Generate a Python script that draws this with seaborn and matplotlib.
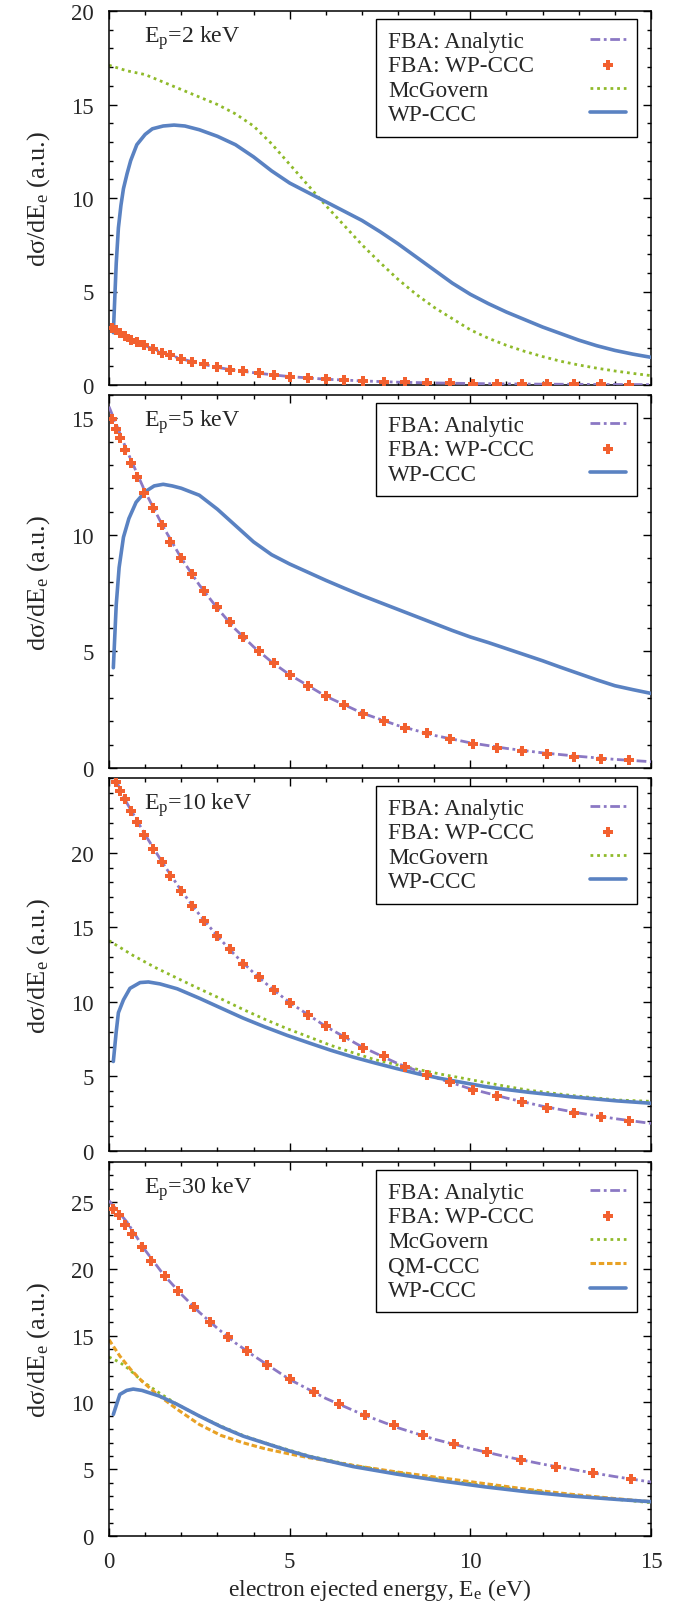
import numpy as np
import pandas as pd
import matplotlib
matplotlib.use("Agg")
import matplotlib.pyplot as plt
from matplotlib.ticker import MultipleLocator, FixedLocator
import seaborn as sns

# ---------------------------------------------------------------- data
# Ejected-electron energy grids (eV) of the FBA: WP-CCC points
fba_grid = [0.09, 0.19, 0.31, 0.45, 0.60, 0.78, 0.97, 1.22, 1.46, 1.70, 2.00,
            2.31, 2.62, 2.98, 3.35, 3.71, 4.14, 4.56, 5.02, 5.51, 6.00, 6.51,
            7.02, 7.60, 8.19, 8.80, 9.43, 10.06, 10.74, 11.42, 12.13, 12.86,
            13.61, 14.39]
fba_grid_30 = [0.11, 0.28, 0.45, 0.64, 0.91, 1.17, 1.55, 1.91, 2.34, 2.80,
               3.28, 3.81, 4.38, 5.01, 5.68, 6.36, 7.09, 7.88, 8.70, 9.55,
               10.45, 11.41, 12.38, 13.39, 14.45]

# Grid of the analytic FBA curves (eV)
ana_grid = [0, 0.5, 1, 1.5, 2, 2.5, 3, 3.5, 4, 4.5, 5, 6, 7, 8, 9, 10, 11,
            12, 13, 14, 15]
ana_grid_30 = [0, 0.5, 1, 1.5, 2, 2.5, 3, 3.5, 4, 5, 6, 7, 8, 9, 10, 11, 12,
               13, 14, 15]

# --- E_p = 2 keV
ana_2 = [3.1, 2.55, 2.1, 1.72, 1.4, 1.15, 0.94, 0.78, 0.66, 0.55, 0.45, 0.31,
         0.22, 0.15, 0.11, 0.08, 0.06, 0.045, 0.035, 0.025, 0.02]
fba_2 = [3.05, 2.92, 2.78, 2.6, 2.43, 2.28, 2.12, 1.9, 1.73, 1.58, 1.4, 1.24,
         1.1, 0.94, 0.82, 0.73, 0.63, 0.55, 0.45, 0.38, 0.31, 0.26, 0.22, 0.18,
         0.14, 0.12, 0.10, 0.08, 0.065, 0.055, 0.045, 0.037, 0.03, 0.024]
mcg_2_x = [0, 0.5, 1.0, 1.5, 2.0, 2.5, 3.0, 3.5, 4.0, 4.5, 5.0, 5.5, 6.0, 6.5,
           7.0, 7.5, 8.0, 8.5, 9.0, 9.5, 10.0, 10.5, 11.0, 11.5, 12.0, 12.5,
           13.0, 13.5, 14.0, 14.5, 15.0]
mcg_2 = [17.1, 16.8, 16.6, 16.2, 15.8, 15.4, 15.0, 14.5, 13.85, 12.9, 11.8,
         10.7, 9.6, 8.55, 7.5, 6.55, 5.65, 4.85, 4.15, 3.55, 2.95, 2.5, 2.12,
         1.8, 1.52, 1.27, 1.07, 0.9, 0.75, 0.62, 0.5]
wp_2_x = [0.12, 0.2, 0.26, 0.33, 0.40, 0.5, 0.6, 0.77, 1.0, 1.2, 1.5, 1.8,
          2.1, 2.5, 3.0, 3.5, 4.0, 4.5, 5.0, 5.5, 6.0, 6.5, 7.0, 7.5, 8.0, 8.5,
          9.0, 9.5, 10.0, 10.5, 11.0, 11.5, 12.0, 12.5, 13.0, 13.5, 14.0, 14.5,
          15.0]
wp_2 = [2.8, 6.5, 8.4, 9.6, 10.5, 11.3, 12.0, 12.85, 13.4, 13.7, 13.85, 13.9,
        13.85, 13.65, 13.3, 12.85, 12.2, 11.45, 10.8, 10.3, 9.8, 9.3, 8.8, 8.2,
        7.55, 6.85, 6.15, 5.45, 4.85, 4.35, 3.9, 3.5, 3.1, 2.75, 2.4, 2.1,
        1.85, 1.65, 1.48]

# --- E_p = 5 keV
ana_5 = [15.5, 13.6, 11.85, 10.35, 9.0, 7.85, 6.85, 5.95, 5.2, 4.55, 4.0,
         3.08, 2.36, 1.82, 1.4, 1.08, 0.84, 0.65, 0.5, 0.37, 0.27]
fba_5 = [14.96, 14.56, 14.17, 13.64, 13.1, 12.5, 11.8, 11.16, 10.44, 9.7,
         9.01, 8.33, 7.61, 6.9, 6.27, 5.63, 5.04, 4.51, 4.01, 3.51, 3.09, 2.69,
         2.33, 2.01, 1.73, 1.49, 1.26, 1.04, 0.87, 0.73, 0.6, 0.49, 0.4, 0.34]
wp_5_x = [0.12, 0.2, 0.28, 0.4, 0.55, 0.75, 1.0, 1.25, 1.5, 1.75, 2.0, 2.5,
          3.0, 3.5, 4.0, 4.5, 5.0, 5.5, 6.0, 6.5, 7.0, 7.5, 8.0, 8.5, 9.0,
          9.5, 10.0, 10.5, 11.0, 11.5, 12.0, 12.5, 13.0, 13.5, 14.0, 14.5,
          15.0]
wp_5 = [4.3, 7.0, 8.6, 9.9, 10.7, 11.4, 11.85, 12.1, 12.17, 12.1, 12.0, 11.7,
        11.1, 10.4, 9.7, 9.15, 8.75, 8.4, 8.05, 7.72, 7.4, 7.1, 6.8, 6.5, 6.2,
        5.9, 5.62, 5.38, 5.12, 4.86, 4.6, 4.32, 4.05, 3.78, 3.53, 3.36, 3.2]

# --- E_p = 10 keV
ana_10 = [25.8, 23.3, 21.2, 19.25, 17.45, 15.85, 14.4, 13.1, 11.95, 10.9,
          9.95, 8.35, 6.98, 5.85, 4.95, 4.17, 3.55, 3.0, 2.55, 2.17, 1.85]
fba_10 = [25.4, 24.7, 24.1, 23.56, 22.8, 22.05, 21.16, 20.27, 19.38, 18.4,
          17.4, 16.44, 15.43, 14.43, 13.54, 12.54, 11.65, 10.8, 9.91, 9.13,
          8.37, 7.64, 6.93, 6.35, 5.63, 5.12, 4.63, 4.12, 3.67, 3.3, 2.9, 2.56,
          2.27, 2.0]
mcg_10_x = [0, 0.67, 1.28, 1.89, 2.5, 3.1, 3.71, 4.32, 4.93, 5.54, 6.14,
            6.75, 7.36, 7.97, 8.58, 9.18, 9.79, 10.4, 11.0, 11.6, 12.8, 14.05,
            15.0]
mcg_10 = [14.1, 13.1, 12.3, 11.58, 10.87, 10.2, 9.49, 8.82, 8.2, 7.64, 7.08,
          6.59, 6.12, 5.78, 5.45, 5.15, 4.88, 4.6, 4.33, 4.08, 3.72, 3.42,
          3.33]
wp_10_x = [0.12, 0.2, 0.26, 0.40, 0.58, 0.86, 1.09, 1.41, 1.89, 2.5, 3.1,
           3.71, 4.32, 4.93, 5.54, 6.14, 6.75, 7.36, 7.97, 8.58, 9.18, 9.79,
           10.4, 11.0, 11.6, 12.8, 14.05, 15.0]
wp_10 = [6.0, 8.0, 9.27, 10.13, 10.9, 11.29, 11.33, 11.2, 10.87, 10.24, 9.58,
         8.91, 8.31, 7.75, 7.24, 6.75, 6.3, 5.9, 5.52, 5.16, 4.86, 4.59, 4.32,
         4.12, 3.94, 3.63, 3.36, 3.2]

# --- E_p = 30 keV
ana_30 = [25.1, 23.5, 21.4, 19.6, 18.1, 16.75, 15.55, 14.45, 13.5, 11.72,
          10.3, 9.12, 8.1, 7.25, 6.55, 5.93, 5.38, 4.9, 4.45, 4.04]
fba_30 = [24.5, 24.05, 23.3, 22.6, 21.6, 20.6, 19.45, 18.35, 17.16, 16.0,
          14.9, 13.84, 12.77, 11.72, 10.77, 9.85, 9.03, 8.28, 7.53, 6.86, 6.28,
          5.69, 5.16, 4.69, 4.24]
mcg_30_x = [0, 0.3, 0.55, 0.91, 1.4, 1.89, 2.5, 3.1, 3.71, 4.32, 4.93, 5.54,
            6.75, 7.97, 9.18, 10.4, 11.6, 12.8, 14.05, 15.0]
mcg_30 = [13.4, 13.0, 12.5, 11.6, 10.7, 9.85, 8.98, 8.23, 7.53, 6.98, 6.48,
          5.99, 5.29, 4.74, 4.24, 3.79, 3.42, 3.04, 2.74, 2.49]
qm_30_x = [0, 0.3, 0.6, 0.91, 1.28, 1.89, 2.5, 3.1, 3.71, 4.32, 4.93, 5.54,
           6.75, 7.97, 9.18, 10.4, 11.6, 12.8, 14.05, 15.0]
qm_30 = [14.7, 13.47, 12.47, 11.6, 10.72, 9.48, 8.35, 7.53, 6.98, 6.53, 6.18,
         5.86, 5.29, 4.79, 4.36, 3.92, 3.49, 3.12, 2.79, 2.57]
wp_30_x = [0.12, 0.3, 0.49, 0.67, 0.91, 1.4, 1.89, 2.5, 3.1, 3.71, 4.32, 4.93,
           5.54, 6.75, 7.97, 9.18, 10.4, 11.6, 12.8, 14.05, 15.0]
wp_30 = [9.1, 10.6, 10.9, 11.0, 10.9, 10.47, 9.85, 8.98, 8.18, 7.48, 6.95,
         6.42, 5.95, 5.2, 4.63, 4.13, 3.68, 3.3, 2.99, 2.74, 2.57]

# ---------------------------------------------------------------- style
sns.set_theme(style="ticks")
plt.rcParams["font.family"] = ["Liberation Serif", "DejaVu Serif"]
plt.rcParams["mathtext.fontset"] = "custom"
plt.rcParams["mathtext.rm"] = "Liberation Serif"
plt.rcParams["mathtext.it"] = "Liberation Serif:italic"
plt.rcParams["axes.linewidth"] = 1.1
plt.rcParams["axes.edgecolor"] = "black"

C_ANA = "#8b78c4"
C_FBA = "#f2602f"
C_MCG = "#8fba2a"
C_QM = "#e8a124"
C_WP = "#5a82c2"

panels = [
    dict(label="2 keV", ylim=20, yticks=[0, 5, 10, 15, 20],
         ana=ana_2, ana_x=ana_grid, fba=fba_2, fba_x=fba_grid,
         mcg=(mcg_2_x, mcg_2), qm=None, wp=(wp_2_x, wp_2)),
    dict(label="5 keV", ylim=16, yticks=[0, 5, 10, 15],
         ana=ana_5, ana_x=ana_grid, fba=fba_5, fba_x=fba_grid,
         mcg=None, qm=None, wp=(wp_5_x, wp_5)),
    dict(label="10 keV", ylim=25, yticks=[0, 5, 10, 15, 20],
         ana=ana_10, ana_x=ana_grid, fba=fba_10, fba_x=fba_grid,
         mcg=(mcg_10_x, mcg_10), qm=None, wp=(wp_10_x, wp_10)),
    dict(label="30 keV", ylim=28, yticks=[0, 5, 10, 15, 20, 25],
         ana=ana_30, ana_x=ana_grid_30, fba=fba_30, fba_x=fba_grid_30,
         mcg=(mcg_30_x, mcg_30), qm=(qm_30_x, qm_30), wp=(wp_30_x, wp_30)),
]

W, H = 690, 1608
fig = plt.figure(figsize=(W / 100, H / 100), dpi=100)
left, right = 109, 651
frames = [(12, 386), (396, 769), (779, 1152), (1163, 1537)]

for i, (p, (top, bot)) in enumerate(zip(panels, frames)):
    ax = fig.add_axes([left / W, 1 - bot / H, (right - left) / W, (bot - top) / H])
    ana_df = pd.DataFrame({"x": p["ana_x"], "y": p["ana"]})
    sns.lineplot(data=ana_df, x="x", y="y", ax=ax, color=C_ANA, lw=2.0,
                 ls=(0, (3.5, 1.3, 1.0, 1.3)), sort=False, estimator=None,
                 label="FBA: Analytic", zorder=3)
    fba_df = pd.DataFrame({"x": p["fba_x"], "y": p["fba"]})
    sns.scatterplot(data=fba_df, x="x", y="y", ax=ax, color=C_FBA, marker="P",
                    s=62, linewidth=0, label="FBA: WP-CCC", zorder=4)
    if p["mcg"] is not None:
        mdf = pd.DataFrame({"x": p["mcg"][0], "y": p["mcg"][1]})
        sns.lineplot(data=mdf, x="x", y="y", ax=ax, color=C_MCG, lw=2.0,
                     ls=(0, (1.0, 1.4)), sort=False, estimator=None,
                     label="McGovern", zorder=2)
    if p["qm"] is not None:
        qdf = pd.DataFrame({"x": p["qm"][0], "y": p["qm"][1]})
        sns.lineplot(data=qdf, x="x", y="y", ax=ax, color=C_QM, lw=2.2,
                     ls=(0, (1.8, 0.9)), sort=False, estimator=None,
                     label="QM-CCC", zorder=2)
    wdf = pd.DataFrame({"x": p["wp"][0], "y": p["wp"][1]})
    sns.lineplot(data=wdf, x="x", y="y", ax=ax, color=C_WP, lw=2.6,
                 sort=False, estimator=None, label="WP-CCC", zorder=3)

    ax.set_xlim(0, 15)
    ax.set_ylim(0, p["ylim"])
    ax.xaxis.set_major_locator(FixedLocator([0, 5, 10, 15]))
    ax.xaxis.set_minor_locator(MultipleLocator(1))
    ax.yaxis.set_major_locator(FixedLocator(p["yticks"]))
    ax.yaxis.set_minor_locator(MultipleLocator(1))
    ax.tick_params(which="both", direction="in", top=True, right=True,
                   color="black", width=1.0, labelsize=16.5)
    ax.tick_params(which="major", length=6)
    ax.tick_params(which="minor", length=3)
    ax.tick_params(axis="y", pad=11)
    ax.tick_params(axis="x", pad=11)
    for s in ax.spines.values():
        s.set_linewidth(1.1)
        s.set_color("black")

    ax.set_ylabel(r"dσ/dE$_\mathregular{e}$ (a.u.)", fontsize=19)
    ax.yaxis.set_label_coords(-0.105, 0.5)
    if i < 3:
        ax.set_xlabel("")
        ax.tick_params(axis="x", labelbottom=False)
    else:
        ax.set_xlabel(r"electron ejected energy, E$_\mathregular{e}$ (eV)",
                      fontsize=17, labelpad=3)

    ax.text(0.065, 0.917, r"E$_\mathregular{p}$=" + p["label"],
            transform=ax.transAxes, fontsize=17.2, va="baseline", ha="left")

    leg = ax.legend(loc="upper right", bbox_to_anchor=(0.975, 0.979),
                    borderaxespad=0, fontsize=16.7, frameon=True,
                    fancybox=False, edgecolor="black", framealpha=1,
                    markerfirst=True, handlelength=1.55, handletextpad=1.0,
                    borderpad=0.5, labelspacing=0.14)
    leg.get_frame().set_linewidth(1.0)
    # text on the left, line sample pushed to the right edge of each row
    col = leg._legend_handle_box.get_children()[0]
    col.width = 238
    col.align = "left"
    for item in col.get_children():
        item.mode = "expand"
        item._children = item._children[::-1]

fig.savefig("out.png", dpi=100)
